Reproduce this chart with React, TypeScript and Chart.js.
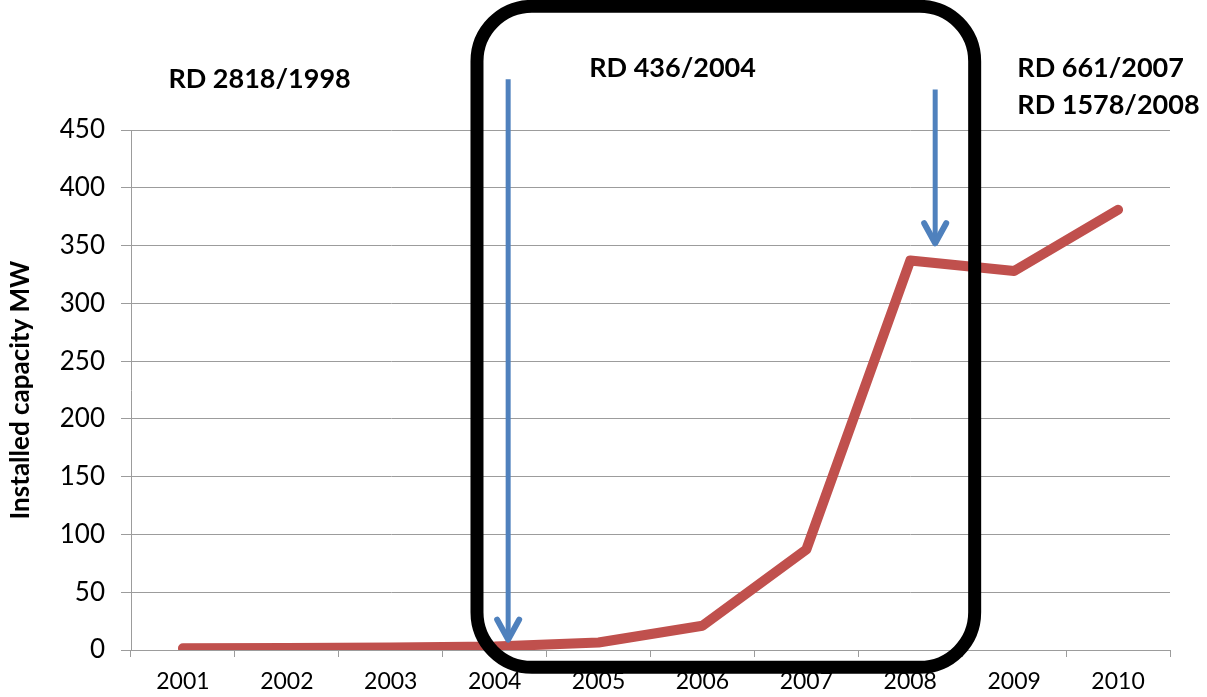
import { useEffect, useRef } from "react";
import { Chart, registerables } from "chart.js";

Chart.register(...registerables);

// Installed capacity per year (MW)
const years = ["2001", "2002", "2003", "2004", "2005", "2006", "2007", "2008", "2009", "2010"];
const capacityMW = [1.5, 1.8, 2.2, 3, 6.5, 21, 87, 337, 328, 381];

// Y axis range
const yMin = 0;
const yMax = 450;
const yStep = 50;

// Royal decree labels, placed in axis units (category index, MW)
const decreeLabels = [
  { lines: ["RD 2818/1998"], x: -0.14, y: 494 },
  { lines: ["RD 436/2004"], x: 3.91, y: 503 },
  { lines: ["RD 661/2007", "RD 1578/2008"], x: 8.03, y: 503 },
];

// Arrows marking when decrees took effect (category index, start MW, tip MW)
const decreeArrows = [
  { x: 3.13, from: 494, to: 9 },
  { x: 7.24, from: 485, to: 352 },
];

// Highlight frame around the RD 436/2004 period
const periodFrame = { x0: 2.83, x1: 7.62, yTop: 557, yBottom: -15 };

const RED = "#C0504D";
const BLUE = "#4F81BD";
const GRID = "#9C9C9C";
const FONT = "Lato, 'Open Sans', sans-serif";

const annotationPlugin = {
  id: "decreeAnnotations",
  afterDatasetsDraw(chart: any) {
    const { ctx, scales } = chart;
    const x = scales.x;
    const y = scales.y;
    ctx.save();

    // blue arrows
    ctx.strokeStyle = BLUE;
    for (const a of decreeArrows) {
      const px = x.getPixelForValue(a.x);
      const top = y.getPixelForValue(a.from);
      const tip = y.getPixelForValue(a.to);
      ctx.lineWidth = 5;
      ctx.lineCap = "butt";
      ctx.beginPath();
      ctx.moveTo(px, top);
      ctx.lineTo(px, tip - 2);
      ctx.stroke();
      ctx.lineCap = "round";
      ctx.lineJoin = "round";
      ctx.lineWidth = 6;
      ctx.beginPath();
      ctx.moveTo(px - 11, tip - 20);
      ctx.lineTo(px, tip);
      ctx.lineTo(px + 11, tip - 20);
      ctx.stroke();
    }

    // rounded black frame
    const fx0 = x.getPixelForValue(periodFrame.x0);
    const fx1 = x.getPixelForValue(periodFrame.x1);
    const fy0 = y.getPixelForValue(periodFrame.yTop);
    const fy1 = y.getPixelForValue(periodFrame.yBottom);
    ctx.strokeStyle = "#000";
    ctx.lineWidth = 13;
    ctx.beginPath();
    ctx.roundRect(fx0, fy0, fx1 - fx0, fy1 - fy0, 55);
    ctx.stroke();

    // decree texts
    ctx.fillStyle = "#000";
    ctx.font = `bold 27px ${FONT}`;
    ctx.textAlign = "left";
    ctx.textBaseline = "middle";
    for (const d of decreeLabels) {
      const px = x.getPixelForValue(d.x);
      const py = y.getPixelForValue(d.y);
      d.lines.forEach((line, i) => ctx.fillText(line, px, py + i * 37));
    }

    ctx.restore();
  },
};

export default function App() {
  const canvasRef = useRef<HTMLCanvasElement | null>(null);

  useEffect(() => {
    const canvas = canvasRef.current;
    if (!canvas) return;
    const chart = new Chart(canvas, {
      type: "line",
      data: {
        labels: years,
        datasets: [
          {
            data: capacityMW,
            borderColor: RED,
            backgroundColor: RED,
            borderWidth: 10,
            pointRadius: 0,
            tension: 0,
            fill: false,
            borderCapStyle: "round",
            borderJoinStyle: "round",
          },
        ],
      },
      options: {
        animation: false,
        responsive: false,
        devicePixelRatio: 1,
        layout: { padding: { top: 130, right: 37, left: 0, bottom: 0 } },
        plugins: {
          legend: { display: false },
          tooltip: { enabled: false },
          title: { display: false },
        },
        scales: {
          x: {
            type: "category",
            offset: true,
            grid: {
              display: true,
              drawOnChartArea: false,
              drawTicks: true,
              tickLength: 7,
              offset: true,
              color: GRID,
            },
            border: { display: true, color: GRID },
            ticks: {
              color: "#000",
              font: { family: FONT, size: 23 },
              padding: 11,
              maxRotation: 0,
              autoSkip: false,
            },
            afterFit: (s: any) => {
              s.height = 47;
            },
          },
          y: {
            min: yMin,
            max: yMax,
            ticks: {
              stepSize: yStep,
              color: "#000",
              font: { family: FONT, size: 26 },
              padding: 16,
            },
            grid: { color: GRID, tickLength: 10, drawTicks: true },
            border: { display: true, color: GRID },
            title: {
              display: true,
              text: "Installed capacity MW",
              color: "#000",
              font: { family: FONT, size: 26, weight: "bold" },
              padding: { top: 5, bottom: 0 },
            },
            afterFit: (s: any) => {
              s.width = 131;
            },
          },
        },
      },
      plugins: [annotationPlugin],
    } as any);
    return () => chart.destroy();
  }, []);

  return (
    <div
      style={{
        position: "fixed",
        left: 0,
        top: 0,
        width: 1207,
        height: 697,
        background: "#fff",
      }}
    >
      <canvas ref={canvasRef} width={1207} height={697} />
    </div>
  );
}
